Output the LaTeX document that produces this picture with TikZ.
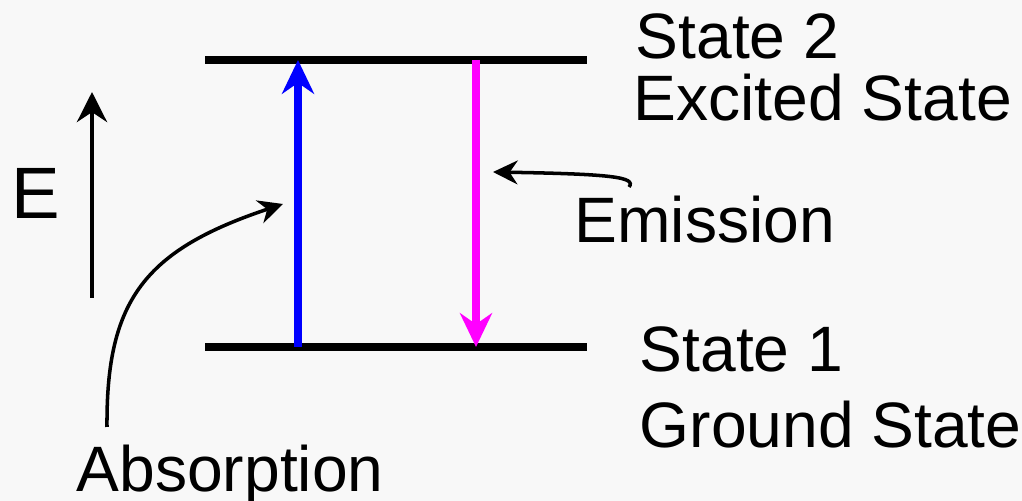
\documentclass[tikz,border=0pt]{standalone}
\usepackage{fontspec}
\setmainfont{Liberation Sans}
\usepackage{tikz}
\usetikzlibrary{arrows.meta}
\definecolor{bg}{HTML}{F8F8F8}
\definecolor{absb}{HTML}{0000FF}
\definecolor{emim}{HTML}{FF00FF}

\begin{document}
\begin{tikzpicture}[x=0.01cm,y=-0.01cm,
    lbl/.style={anchor=base west,inner sep=0pt,font=\fontsize{18.25}{18.25}\selectfont},
    level/.style={line width=2.3pt},
    trans/.style={line width=2pt,-{Stealth[length=9.6pt,width=9.1pt]}},
    pointer/.style={line width=1pt,-{Stealth[length=7pt,width=6.8pt]}}]
  \fill[bg] (0,0) rectangle (1022,501);
  \useasboundingbox (0,0) rectangle (1022,501);
  \coordinate (s2l) at (205,60);  \coordinate (s2r) at (587,60);
  \coordinate (s1l) at (205,347); \coordinate (s1r) at (587,347);
  \draw[level] (s2l)--(s2r);
  \draw[level] (s1l)--(s1r);
  \draw[trans,absb] (298,347)--(298,60);
  \draw[trans,emim] (476,60)--(476,347);
  \node[lbl] (state2) at (635,59) {State 2};
  \node[lbl] (excited) at (633,121) {Excited State};
  \node[lbl] (state1) at (639,372) {State 1};
  \node[lbl] (ground) at (639,448) {Ground State};
  \node[lbl] (emission) at (574,243) {Emission};
  \node[lbl] (absorption) at (76,492) {Absorption};
  \node[anchor=base west,inner sep=0pt,font=\fontsize{20.7}{20.7}\selectfont] (energy) at (11,219) {E};
  \coordinate (e0) at (92,298); \coordinate (e1) at (92,92);
  \draw[line width=1.4pt,-{Stealth[length=8.5pt,width=8.5pt]}] (e0)--(e1);
  \coordinate (a0) at (107,427); \coordinate (a1) at (283,204);
  \draw[pointer] (a0) .. controls (106,300) and (145,250) .. (a1);
  \coordinate (m0) at (629,187); \coordinate (m1) at (493,172);
  \draw[pointer] (m0) .. controls (637,177) and (610,174) .. (m1);
\end{tikzpicture}
\end{document}
